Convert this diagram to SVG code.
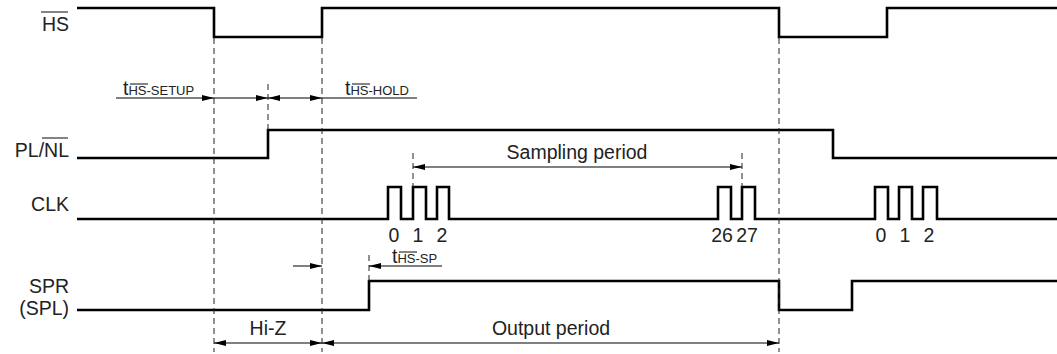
<svg xmlns="http://www.w3.org/2000/svg" width="1057" height="354" viewBox="0 0 1057 354">
<defs>
<style>
.sig{fill:none;stroke:#000;stroke-width:2.6;stroke-linejoin:miter;stroke-linecap:butt}
.dash{fill:none;stroke:#222;stroke-width:1;stroke-dasharray:6,4}
.dim{fill:none;stroke:#000;stroke-width:1}
.lbl{font-family:"Liberation Sans",Arial,sans-serif;font-size:19.5px;fill:#222}
.sm{font-family:"Liberation Sans",Arial,sans-serif;font-size:13px;fill:#222}
.ov{stroke:#333;stroke-width:1.2}
</style>
<marker id="ah" viewBox="0 0 12 6" refX="12" refY="3" markerWidth="12" markerHeight="6" markerUnits="userSpaceOnUse" orient="auto-start-reverse">
<path d="M0,0 L12,3 L0,6 Z" fill="#000"/>
</marker>
</defs>

<g id="labels">
<text class="lbl" x="69" y="31" text-anchor="end">HS</text>
<line class="ov" x1="41" y1="12" x2="68" y2="12"/>
<text class="lbl" x="69" y="157" text-anchor="end">PL/NL</text>
<line class="ov" x1="42" y1="138" x2="68" y2="138"/>
<text class="lbl" x="69" y="211" text-anchor="end">CLK</text>
<text class="lbl" x="69" y="293" text-anchor="end">SPR</text>
<text class="lbl" x="69" y="315" text-anchor="end">(SPL)</text>
</g>

<g id="signals">
<path id="hs" class="sig" d="M77,8 H214 V37 H322 V8 H779 V37 H887 V8 H1057"/>
<path id="plnl" class="sig" d="M77,158 H268 V130 H833 V158 H1057"/>
<path id="clk" class="sig" d="M77,219 H388 V187 H401 V219 H413 V187 H426 V219 H437 V187 H449 V219 H718 V187 H731 V219 H742 V187 H755 V219 H875 V187 H888 V219 H899 V187 H912 V219 H923 V187 H937 V219 H1057"/>
<path id="spr" class="sig" d="M77,310 H369 V281 H779 V310 H852 V281 H1057"/>
</g>

<g id="clk-numbers" class="lbl">
<text x="394" y="242" text-anchor="middle">0</text>
<text x="418" y="242" text-anchor="middle">1</text>
<text x="442" y="242" text-anchor="middle">2</text>
<text x="722" y="242" text-anchor="middle">26</text>
<text x="747" y="242" text-anchor="middle">27</text>
<text x="881" y="242" text-anchor="middle">0</text>
<text x="905" y="242" text-anchor="middle">1</text>
<text x="929" y="242" text-anchor="middle">2</text>
</g>

<g id="connectors">
<line class="dash" x1="214" y1="38" x2="214" y2="352"/>
<line class="dash" x1="322" y1="38" x2="322" y2="352"/>
<line class="dash" x1="268" y1="84" x2="268" y2="130"/>
<line class="dash" x1="779" y1="38" x2="779" y2="352"/>
<line class="dash" x1="413" y1="153" x2="413" y2="187"/>
<line class="dash" x1="742" y1="153" x2="742" y2="187"/>
<line class="dash" x1="369" y1="255" x2="369" y2="281"/>

<line class="dim" x1="116" y1="98" x2="214" y2="98" marker-end="url(#ah)"/>
<line class="dim" x1="214" y1="98" x2="268" y2="98" marker-end="url(#ah)"/>
<line class="dim" x1="268" y1="98" x2="322" y2="98" marker-start="url(#ah)" marker-end="url(#ah)"/>
<line class="dim" x1="417" y1="98" x2="322" y2="98"/>

<line class="dim" x1="413" y1="167" x2="742" y2="167" marker-start="url(#ah)" marker-end="url(#ah)"/>

<line class="dim" x1="293" y1="266" x2="322" y2="266" marker-end="url(#ah)"/>
<line class="dim" x1="442" y1="266" x2="369" y2="266" marker-end="url(#ah)"/>

<line class="dim" x1="214" y1="343" x2="322" y2="343" marker-start="url(#ah)" marker-end="url(#ah)"/>
<line class="dim" x1="322" y1="343" x2="779" y2="343" marker-start="url(#ah)" marker-end="url(#ah)"/>
</g>

<g id="dim-labels">
<text class="lbl" x="577" y="159" text-anchor="middle">Sampling period</text>
<text class="lbl" x="268" y="335" text-anchor="middle">Hi-Z</text>
<text class="lbl" x="551" y="335" text-anchor="middle">Output period</text>

<text x="123" y="95"><tspan class="lbl" font-size="18">t</tspan><tspan class="sm">HS-SETUP</tspan></text>
<line class="ov" x1="130" y1="84" x2="148" y2="84"/>
<text x="345" y="95"><tspan class="lbl" font-size="18">t</tspan><tspan class="sm">HS-HOLD</tspan></text>
<line class="ov" x1="352" y1="84" x2="370" y2="84"/>
<text x="392" y="263"><tspan class="lbl" font-size="18">t</tspan><tspan class="sm">HS-SP</tspan></text>
<line class="ov" x1="399" y1="252" x2="417" y2="252"/>
</g>
</svg>
